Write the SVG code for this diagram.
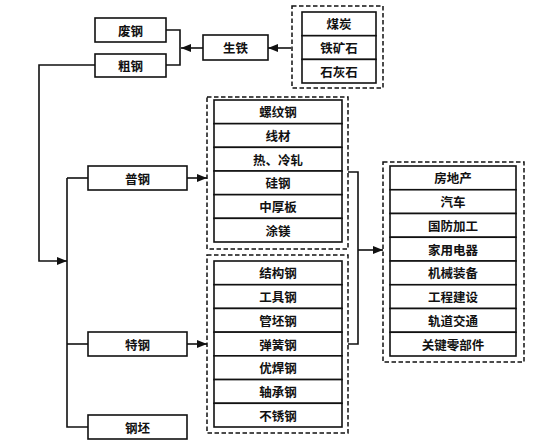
<svg xmlns="http://www.w3.org/2000/svg" width="556" height="446" viewBox="0 0 556 446">
<style>
.b{fill:#fff;stroke:#111;stroke-width:1.6}
.d{fill:none;stroke:#111;stroke-width:1.5;stroke-dasharray:4.5,2.5}
.c{fill:none;stroke:#111;stroke-width:1.6}
text{font-family:"Noto Sans CJK SC","Noto Sans",sans-serif;font-size:12.5px;font-weight:700;fill:#111;text-anchor:middle;dominant-baseline:central}
</style>
<defs>
<marker id="a" viewBox="0 0 10 8" refX="10" refY="4" markerWidth="10" markerHeight="8" markerUnits="userSpaceOnUse" orient="auto">
<path d="M0,0 L10,4 L0,8 Z" fill="#111"/>
</marker>
</defs>
<rect width="556" height="446" fill="#fff"/>
<g id="connectors">
<path class="c" d="M291,48 H268" marker-end="url(#a)"/>
<path class="c" d="M203,48 H181" marker-end="url(#a)"/>
<path class="c" d="M166,30 H180 V65 H166"/>
<path class="c" d="M95,65 H39 V261 H67" marker-end="url(#a)"/>
<path class="c" d="M67,178 V427 H88"/>
<path class="c" d="M67,178 H88"/>
<path class="c" d="M67,344 H88"/>
<path class="c" d="M187,178 H207" marker-end="url(#a)"/>
<path class="c" d="M187,344 H207" marker-end="url(#a)"/>
<path class="c" d="M348,172 H358 V344 H348"/>
<path class="c" d="M358,250 H383" marker-end="url(#a)"/>
</g>
<g id="feigang"><rect class="b" x="95" y="18" width="71" height="24"/><text x="130.5" y="30">废钢</text></g>
<g id="cugang"><rect class="b" x="95" y="54" width="71" height="23"/><text x="130.5" y="65.5">粗钢</text></g>
<g id="shengtie"><rect class="b" x="203" y="35" width="65" height="25"/><text x="235.5" y="47.5">生铁</text></g>
<g id="raw">
<rect class="d" x="292" y="6" width="91" height="82"/>
<rect class="b" x="302" y="12" width="74" height="23.7"/><text x="339" y="23.8">煤炭</text>
<rect class="b" x="302" y="35.7" width="74" height="23.7"/><text x="339" y="47.5">铁矿石</text>
<rect class="b" x="302" y="59.4" width="74" height="23.6"/><text x="339" y="71.2">石灰石</text>
</g>
<g id="pugang"><rect class="b" x="88" y="166" width="99" height="24"/><text x="137.5" y="178">普钢</text></g>
<g id="tegang"><rect class="b" x="88" y="332" width="99" height="24"/><text x="137.5" y="344">特钢</text></g>
<g id="gangpi"><rect class="b" x="88" y="415" width="99" height="24"/><text x="137.5" y="427">钢坯</text></g>
<g id="pugang-products">
<rect class="d" x="207" y="97" width="141" height="152"/>
<rect class="b" x="214" y="100" width="128" height="23.67"/><text x="278" y="111.8">螺纹钢</text>
<rect class="b" x="214" y="123.67" width="128" height="23.67"/><text x="278" y="135.5">线材</text>
<rect class="b" x="214" y="147.33" width="128" height="23.67"/><text x="278" y="159.2">热、冷轧</text>
<rect class="b" x="214" y="171" width="128" height="23.67"/><text x="278" y="182.8">硅钢</text>
<rect class="b" x="214" y="194.67" width="128" height="23.67"/><text x="278" y="206.5">中厚板</text>
<rect class="b" x="214" y="218.33" width="128" height="23.67"/><text x="278" y="230.2">涂镁</text>
</g>
<g id="tegang-products">
<rect class="d" x="207" y="255" width="141" height="178"/>
<rect class="b" x="214" y="261" width="128" height="23.71"/><text x="278" y="272.9">结构钢</text>
<rect class="b" x="214" y="284.71" width="128" height="23.71"/><text x="278" y="296.6">工具钢</text>
<rect class="b" x="214" y="308.43" width="128" height="23.71"/><text x="278" y="320.3">管坯钢</text>
<rect class="b" x="214" y="332.14" width="128" height="23.71"/><text x="278" y="344">弹簧钢</text>
<rect class="b" x="214" y="355.86" width="128" height="23.71"/><text x="278" y="367.7">优焊钢</text>
<rect class="b" x="214" y="379.57" width="128" height="23.71"/><text x="278" y="391.4">轴承钢</text>
<rect class="b" x="214" y="403.29" width="128" height="23.71"/><text x="278" y="415.1">不锈钢</text>
</g>
<g id="applications">
<rect class="d" x="383" y="162" width="141" height="200"/>
<rect class="b" x="390" y="166" width="126" height="23.75"/><text x="453" y="177.9">房地产</text>
<rect class="b" x="390" y="189.75" width="126" height="23.75"/><text x="453" y="201.6">汽车</text>
<rect class="b" x="390" y="213.5" width="126" height="23.75"/><text x="453" y="225.4">国防加工</text>
<rect class="b" x="390" y="237.25" width="126" height="23.75"/><text x="453" y="249.1">家用电器</text>
<rect class="b" x="390" y="261" width="126" height="23.75"/><text x="453" y="272.9">机械装备</text>
<rect class="b" x="390" y="284.75" width="126" height="23.75"/><text x="453" y="296.6">工程建设</text>
<rect class="b" x="390" y="308.5" width="126" height="23.75"/><text x="453" y="320.4">轨道交通</text>
<rect class="b" x="390" y="332.25" width="126" height="23.75"/><text x="453" y="344.1">关键零部件</text>
</g>
</svg>
